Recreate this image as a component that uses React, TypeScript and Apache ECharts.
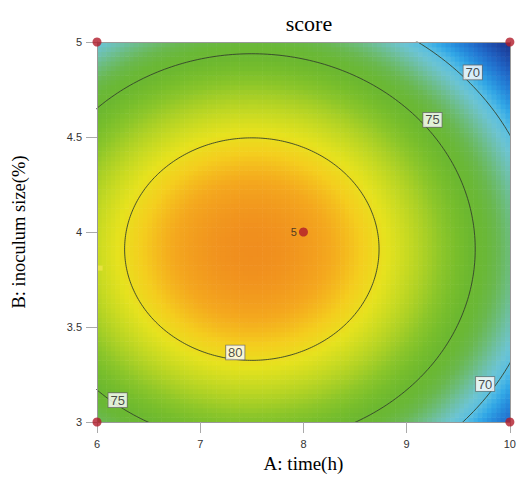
import React, { useEffect, useRef } from "react";
import * as echarts from "echarts";

// Axis ranges / ticks
const timeRange = [6, 10];
const inoculumRange = [3, 5];
const timeInterval = 1;
const inoculumInterval = 0.5;

// Fitted response-surface: peak and curvatures
const peakScore = 82.4;
const peakTime = 7.5;
const peakInoculum = 3.91;
const curvatureTime = 1.58;
const curvatureInoculum = 7.0;

// Contour levels and where their labels sit
const contourLevels = [70, 75, 80];
const contourLabels: [number, number, number][] = [
  [7.34, 3.366, 80],
  [9.25, 4.59, 75],
  [6.2, 3.115, 75],
  [9.64, 4.84, 70],
  [9.76, 3.2, 70],
];

// Design points
const designPoints: [number, number, string][] = [
  [6, 3, ""],
  [6, 5, ""],
  [10, 3, ""],
  [10, 5, ""],
  [8, 4, "5"],
];
const extraPoint: [number, number][] = [[6.03, 3.81]];

// Colour ramp (low -> high, evenly spaced over the value range)
const colorRamp = [
  "#1C3A94",
  "#1D4AA8",
  "#1F5EBE",
  "#2274D0",
  "#268CDC",
  "#32A8E6",
  "#58BEE2",
  "#6CC4D2",
  "#6EC0A8",
  "#6CBC78",
  "#6AB84E",
  "#6AB836",
  "#6CB830",
  "#78BE2C",
  "#8CC62A",
  "#AAD026",
  "#C8DA22",
  "#E6E21E",
  "#F4CE1E",
  "#F4A81E",
  "#F08E1E",
];

const nTime = 90;
const nInoc = 80;

function model(a: number, b: number) {
  return (
    peakScore -
    curvatureTime * (a - peakTime) ** 2 -
    curvatureInoculum * (b - peakInoculum) ** 2
  );
}

export default function App() {
  const ref = useRef<HTMLDivElement>(null);
  useEffect(() => {
    if (!ref.current) return;
    const chart = echarts.init(ref.current, undefined, { renderer: "svg" });
    const dA = (timeRange[1] - timeRange[0]) / nTime;
    const dB = (inoculumRange[1] - inoculumRange[0]) / nInoc;
    const cells: number[][] = [];
    let vmin = Infinity;
    for (let i = 0; i < nTime; i++) {
      for (let j = 0; j < nInoc; j++) {
        const a = timeRange[0] + (i + 0.5) * dA;
        const b = inoculumRange[0] + (j + 0.5) * dB;
        const v = model(a, b);
        if (v < vmin) vmin = v;
        cells.push([a, b, v]);
      }
    }
    const contourSeries = contourLevels.map((lv) => {
      const rA = Math.sqrt((peakScore - lv) / curvatureTime);
      const rB = Math.sqrt((peakScore - lv) / curvatureInoculum);
      const pts: number[][] = [];
      for (let k = 0; k <= 360; k++) {
        const t = (k / 360) * Math.PI * 2;
        pts.push([peakTime + rA * Math.cos(t), peakInoculum + rB * Math.sin(t)]);
      }
      return {
        type: "line",
        data: pts,
        showSymbol: false,
        symbol: "none",
        clip: true,
        smooth: false,
        lineStyle: { color: "#34422c", width: 0.9 },
        z: 3,
        silent: true,
      };
    });
    const sans = "Liberation Sans, Arial, sans-serif";
    const serif = "Liberation Serif, Times New Roman, serif";
    const axisCommon = {
      z: 6,
      splitLine: { show: false },
    };
    chart.setOption({
      animation: false,
      title: {
        text: "score",
        left: 304,
        top: 7,
        textAlign: "center",
        textStyle: { fontFamily: serif, fontSize: 22, fontWeight: "normal", color: "#000" },
      },
      grid: { left: 97, top: 42, width: 414, height: 383 },
      visualMap: {
        show: false,
        type: "continuous",
        min: vmin,
        max: peakScore,
        dimension: 2,
        seriesIndex: 0,
        inRange: { color: colorRamp },
      },
      xAxis: [
        {
          ...axisCommon,
          type: "value",
          min: timeRange[0],
          max: timeRange[1],
          interval: timeInterval,
          name: "A: time(h)",
          nameLocation: "middle",
          nameGap: 32,
          nameTextStyle: { fontFamily: serif, fontSize: 19, color: "#000" },
          axisLine: { show: true, lineStyle: { color: "#999", width: 1 } },
          axisTick: { show: true, length: 11, lineStyle: { color: "#aaa" } },
          axisLabel: { fontFamily: sans, fontSize: 11, color: "#333", margin: 16 },
        },
        {
          ...axisCommon,
          type: "value",
          position: "top",
          min: timeRange[0],
          max: timeRange[1],
          axisLine: { show: true, lineStyle: { color: "#999", width: 1 } },
          axisTick: { show: false },
          axisLabel: { show: false },
        },
      ],
      yAxis: [
        {
          ...axisCommon,
          type: "value",
          min: inoculumRange[0],
          max: inoculumRange[1],
          interval: inoculumInterval,
          name: "B: inoculum size(%)",
          nameLocation: "middle",
          nameGap: 69,
          nameTextStyle: { fontFamily: serif, fontSize: 18.5, color: "#000" },
          axisLine: { show: true, lineStyle: { color: "#999", width: 1 } },
          axisTick: { show: true, length: 11, lineStyle: { color: "#aaa" } },
          axisLabel: { fontFamily: sans, fontSize: 11, color: "#333", margin: 15 },
        },
        {
          ...axisCommon,
          type: "value",
          position: "right",
          min: inoculumRange[0],
          max: inoculumRange[1],
          axisLine: { show: true, lineStyle: { color: "#999", width: 1 } },
          axisTick: { show: false },
          axisLabel: { show: false },
        },
      ],
      series: [
        {
          type: "custom",
          data: cells,
          encode: { x: 0, y: 1 },
          z: 1,
          silent: true,
          renderItem: (params: any, api: any) => {
            const a = api.value(0);
            const b = api.value(1);
            const p0 = api.coord([a - dA / 2, b + dB / 2]);
            const p1 = api.coord([a + dA / 2, b - dB / 2]);
            return {
              type: "rect",
              shape: {
                x: p0[0],
                y: p0[1],
                width: p1[0] - p0[0] + 0.6,
                height: p1[1] - p0[1] + 0.6,
              },
              style: { fill: api.visual("color") },
            };
          },
        },
        ...contourSeries,
        {
          type: "scatter",
          data: contourLabels,
          symbol: "rect",
          symbolSize: 0,
          z: 4,
          silent: true,
          label: {
            show: true,
            position: "inside",
            formatter: (p: any) => String(p.value[2]),
            fontFamily: sans,
            fontSize: 13,
            color: "#222",
            backgroundColor: "#fff",
            borderColor: "#666",
            borderWidth: 0.8,
            padding: [1, 2, 0, 2],
          },
        },
        {
          type: "scatter",
          data: extraPoint,
          symbol: "rect",
          symbolSize: 5,
          itemStyle: { color: "#EEE54A" },
          z: 4,
          silent: true,
        },
        {
          type: "scatter",
          data: designPoints,
          symbol: "circle",
          symbolSize: 9,
          clip: false,
          z: 7,
          silent: true,
          itemStyle: { color: "#B01B2A" },
          label: {
            show: true,
            position: "left",
            distance: 2,
            formatter: (p: any) => p.value[2],
            fontFamily: sans,
            fontSize: 11,
            color: "#222",
          },
        },
      ],
    });
    return () => chart.dispose();
  }, []);
  return (
    <div
      ref={ref}
      style={{ position: "fixed", left: 0, top: 0, width: 519, height: 478, background: "#fff" }}
    />
  );
}
